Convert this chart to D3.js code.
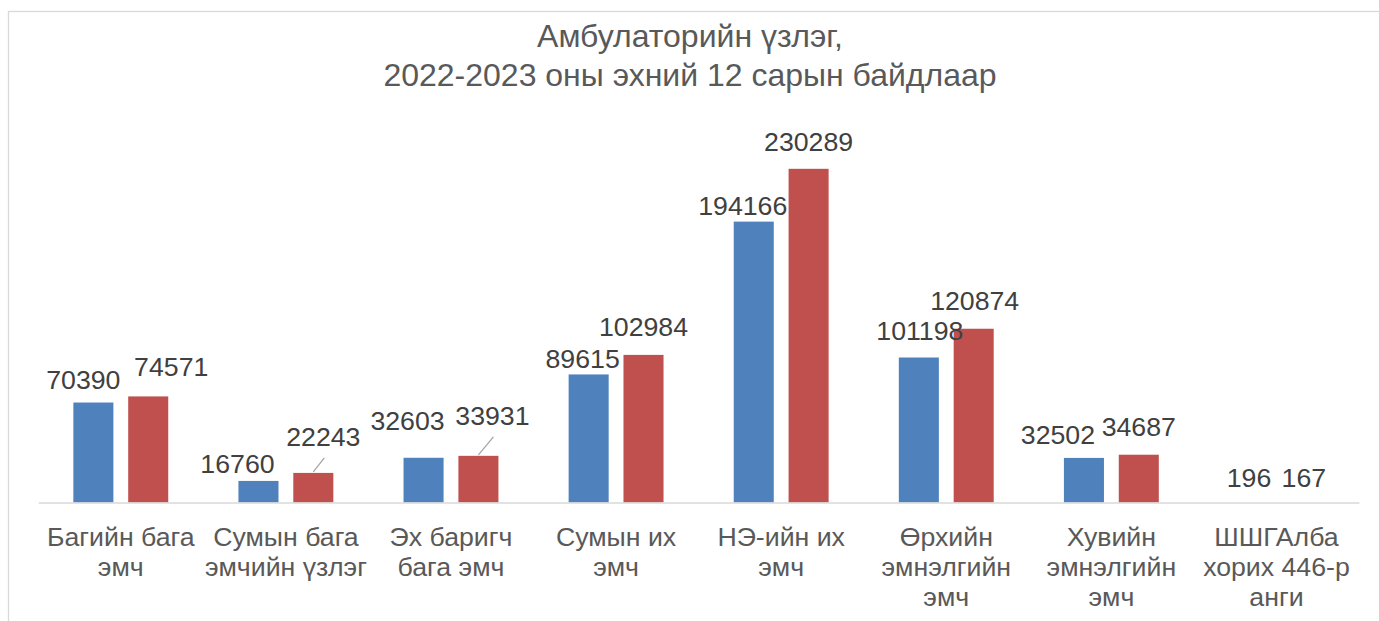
<!DOCTYPE html>
<html>
<head>
<meta charset="utf-8">
<script src="https://cdn.jsdelivr.net/npm/d3@7"></script>
<style>
  body { margin: 0; background: #fff; }
  svg { display: block; font-family: "Liberation Sans", Arial, sans-serif; }
</style>
</head>
<body>
<svg id="chart" width="1379" height="621"></svg>
<script>
// chart data
const titleLines = ["Амбулаторийн үзлэг,", "2022-2023 оны эхний 12 сарын байдлаар"];
const categories = [
    "Багийн бага\nэмч",
    "Сумын бага\nэмчийн үзлэг",
    "Эх баригч\nбага эмч",
    "Сумын их\nэмч",
    "НЭ-ийн их\nэмч",
    "Өрхийн\nэмнэлгийн\nэмч",
    "Хувийн\nэмнэлгийн\nэмч",
    "ШШГАлба\nхорих 446-р\nанги"
];
const series = ["2022", "2023"];
const values2022 = [70390, 16760, 32603, 89615, 194166, 101198, 32502, 196];
const values2023 = [74571, 22243, 33931, 102984, 230289, 120874, 34687, 167];

// hand-moved data labels in the original (dx, dy in px, leader line)
const nudge2022 = [[-10, 4], [-21, 10], [-16, -10], [-6, 12], [-11, 11], [1, 0], [-26, 4], [0, 2]];
const nudge2023 = [[23, -2], [10, -9, true], [14, -13, true], [0, -1], [0, 0], [1, -1], [0, -1], [0, 2]];

const colors = ["#4F81BD", "#C0504D"];

const svg = d3.select("#chart");

// outer chart border
svg.append("rect")
    .attr("x", 8.5)
    .attr("y", 11.5)
    .attr("width", 1420)
    .attr("height", 700)
    .attr("fill", "none")
    .attr("stroke", "#d9d9d9")
    .attr("stroke-width", 1.3);

const title = svg.append("text")
    .attr("text-anchor", "middle")
    .attr("fill", "#595959")
    .style("font-size", "32px");
titleLines.forEach((t, i) => {
    title.append("tspan")
        .attr("x", 690)
        .attr("y", 47 + i * 39)
        .text(t);
});

const baseY = 502.5;

const x = d3.scaleBand()
    .domain(categories)
    .range([38.25, 1359]);

const xs = d3.scaleBand()
    .domain(series)
    .range([0, x.bandwidth()])
    .paddingInner(0.27)
    .paddingOuter(0.64);

const y = d3.scaleLinear()
    .domain([2000, 250000])
    .range([baseY, 140])
    .clamp(true);

const rows = categories.map((c, i) => ({
    cat: c,
    vals: [
        { s: series[0], v: values2022[i], n: nudge2022[i] },
        { s: series[1], v: values2023[i], n: nudge2023[i] }
    ]
}));

const groups = svg.selectAll("g.cat")
    .data(rows)
    .enter()
    .append("g")
    .attr("class", "cat")
    .attr("transform", (d) => `translate(${x(d.cat)},0)`);

groups.selectAll("rect")
    .data((d) => d.vals)
    .enter()
    .append("rect")
    .attr("x", (d) => xs(d.s))
    .attr("y", (d) => y(d.v))
    .attr("width", xs.bandwidth())
    .attr("height", (d) => y.range()[0] - y(d.v))
    .attr("fill", (d, i) => colors[i]);

// x axis (line + wrapped category labels)
const axis = svg.append("g")
    .attr("transform", `translate(0,${baseY})`)
    .call(d3.axisBottom(x).tickSize(0).tickSizeOuter(0));

axis.select(".domain")
    .attr("stroke", "#d9d9d9")
    .attr("stroke-width", 1.6);

axis.selectAll(".tick text")
    .attr("fill", "#595959")
    .style("font-size", "26.7px")
    .style("font-family", "'Liberation Sans', Arial, sans-serif")
    .each(function(d) {
        const t = d3.select(this);
        t.text(null).attr("y", 0).attr("dy", null);
        d.split("\n").forEach((line, i) => {
            t.append("tspan")
                .attr("x", 0)
                .attr("y", 43.5 + i * 29.8)
                .text(line);
        });
    });

// data labels
const labelGap = 18;
groups.selectAll("g.lbl")
    .data((d) => d.vals)
    .enter()
    .append("g")
    .attr("class", "lbl")
    .each(function(d) {
        const g = d3.select(this);
        const cx = xs(d.s) + xs.bandwidth() / 2;
        const top = y(d.v);
        const lx = cx + d.n[0];
        const ly = top - labelGap + d.n[1];
        if (d.n[2]) {
            g.append("line")
                .attr("x1", cx)
                .attr("y1", top - 1)
                .attr("x2", lx + 1)
                .attr("y2", ly + 12)
                .attr("stroke", "#a6a6a6")
                .attr("stroke-width", 1.3);
        }
        g.append("text")
            .attr("x", lx)
            .attr("y", ly)
            .attr("text-anchor", "middle")
            .attr("fill", "#404040")
            .style("font-size", "26.7px")
            .text(d.v);
    });
</script>
</body>
</html>
